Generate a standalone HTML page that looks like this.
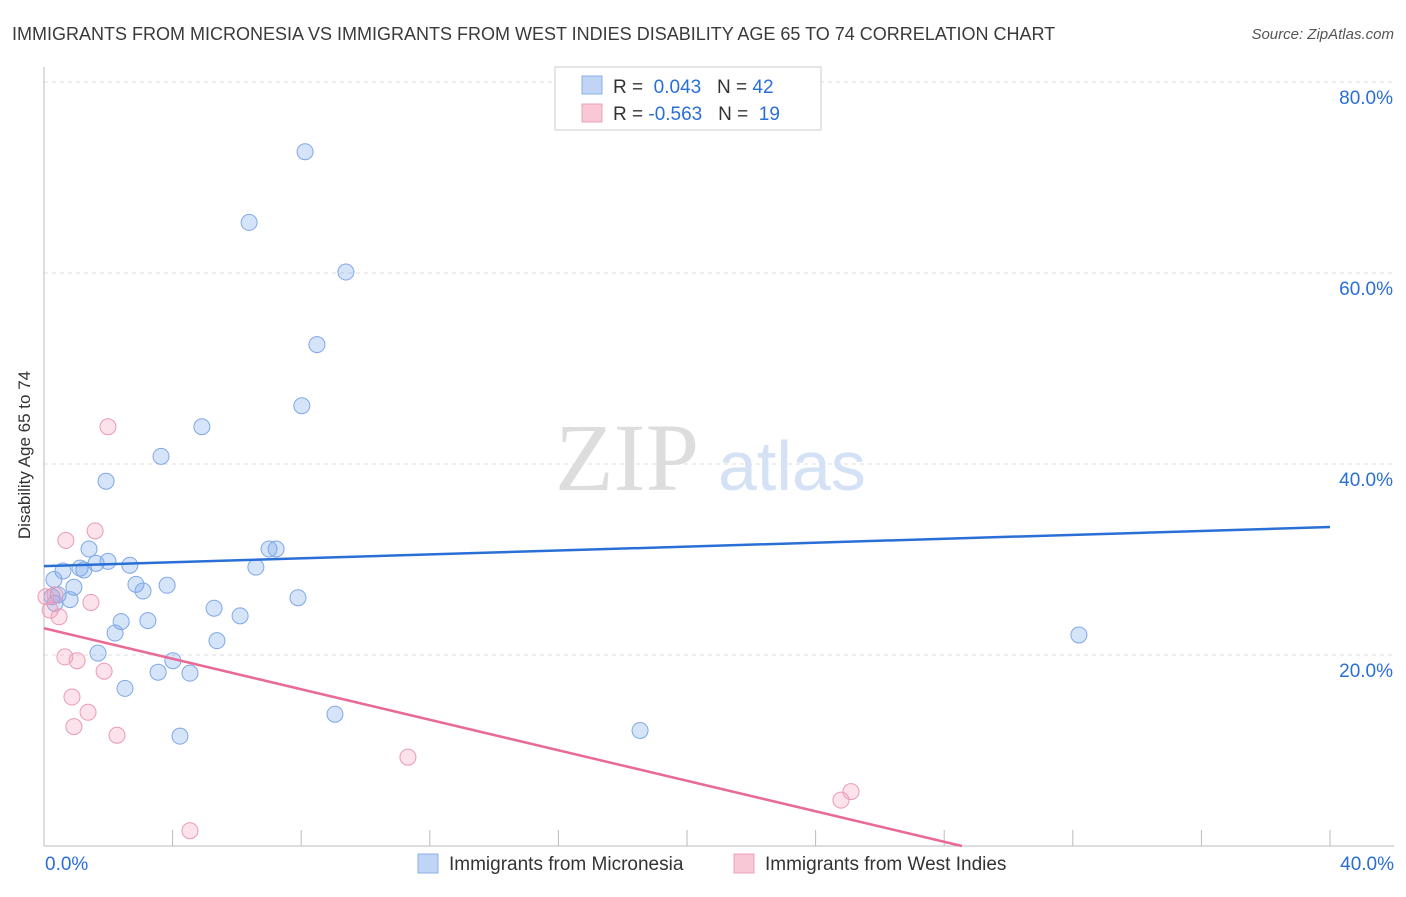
<!DOCTYPE html>
<html><head><meta charset="utf-8"><style>
body{margin:0;background:#fff;font-family:"Liberation Sans",sans-serif;}
</style></head><body>
<svg width="1406" height="892" xmlns="http://www.w3.org/2000/svg" font-family="Liberation Sans, sans-serif">
<text x="12" y="40" font-size="18" fill="#3a3a3a">IMMIGRANTS FROM MICRONESIA VS IMMIGRANTS FROM WEST INDIES DISABILITY AGE 65 TO 74 CORRELATION CHART</text>
<text x="1394" y="39" font-size="15" fill="#555" font-style="italic" text-anchor="end">Source: ZipAtlas.com</text>
<g id="grid"></g>
<text x="555" y="490" font-size="96" fill="#ddd" font-family="Liberation Serif, serif">ZIP</text>
<text x="718" y="490" font-size="70" fill="#d5e2f5">atlas</text>
<text x="30" y="455" font-size="17" fill="#333" text-anchor="middle" transform="rotate(-90 30 455)">Disability Age 65 to 74</text>
<g id="marks"></g>
<g>
<rect x="555" y="67" width="266" height="63" fill="#fff" stroke="#ccc"/>
<rect x="582" y="76" width="20" height="18" fill="#c0d5f5" stroke="#8ab0e8"/>
<rect x="582" y="104" width="20" height="18" fill="#f9c8d6" stroke="#efa0b8"/>
<text x="613" y="93" font-size="19" fill="#333">R = <tspan fill="#2a6fd6">&#160;0.043</tspan>&#160;&#160;&#160;N = <tspan fill="#2a6fd6">42</tspan></text>
<text x="613" y="120" font-size="19" fill="#333">R = <tspan fill="#2a6fd6">-0.563</tspan>&#160;&#160;&#160;N = <tspan fill="#2a6fd6">&#160;19</tspan></text>
</g>
<g>
<rect x="418" y="854" width="20" height="19" fill="#c0d5f5" stroke="#8ab0e8"/>
<text x="449" y="870" font-size="19" fill="#333">Immigrants from Micronesia</text>
<rect x="734" y="854" width="20" height="19" fill="#f9c8d6" stroke="#efa0b8"/>
<text x="765" y="870" font-size="19" fill="#333">Immigrants from West Indies</text>
</g>
</svg>
<script>
const yTicks=[20,40,60,80];
const xTickLabels=["0.0%","40.0%"];
const blueX=[8.12,6.38,9.39,8.49,8.02,4.91,3.64,1.93,1.40,7.00,7.22,1.99,1.62,1.12,1.24,0.59,2.67,6.59,0.31,0.93,2.86,3.83,3.08,0.44,0.25,0.81,0.34,7.90,5.29,6.10,3.23,2.40,2.21,5.38,32.19,1.68,4.01,3.55,4.54,2.52,9.05,4.23,18.54];
const blueY=[72.7,65.3,60.1,52.5,46.1,43.9,40.8,38.2,31.1,31.1,31.1,29.8,29.6,29.1,28.9,28.8,29.4,29.2,27.9,27.1,27.4,27.3,26.7,26.3,26.1,25.8,25.4,26.0,24.9,24.1,23.6,23.5,22.3,21.5,22.1,20.2,19.4,18.2,18.1,16.5,13.8,11.5,12.1];
const pinkX=[1.99,1.59,0.68,0.34,0.06,1.46,0.19,0.47,0.65,1.03,1.87,0.87,1.37,0.93,2.27,11.32,25.10,24.79,4.54];
const pinkY=[43.9,33.0,32.0,26.3,26.1,25.5,24.7,24.0,19.8,19.4,18.3,15.6,14.0,12.5,11.6,9.3,5.7,4.8,1.6];
const blueTrendX=[0,40];const blueTrendY=[29.3,33.4];
const pinkTrendX=[0,28.55];const pinkTrendY=[22.8,0];
const NS="http://www.w3.org/2000/svg";
const sx=v=>44+v*32.15, sy=v=>846-v*9.55;
function mk(t,a,p){const e=document.createElementNS(NS,t);for(const k in a)e.setAttribute(k,a[k]);p.appendChild(e);return e;}
const grid=document.getElementById('grid'),marks=document.getElementById('marks');
yTicks.forEach(v=>{
 const l=mk('line',{x1:44,x2:1394,y1:sy(v),y2:sy(v),stroke:'#ddd','stroke-dasharray':'4,4'},grid);
 
 
 const t=mk('text',{x:1393,y:sy(v)+22,'font-size':19,fill:'#2a6fd6','text-anchor':'end'},grid);
 t.textContent=v.toFixed(1)+'%';
 
 
});
const ax=mk('line',{x1:44,x2:1394,y1:846,y2:846,stroke:'#bbb'},grid);


const ay=mk('line',{x1:44,x2:44,y1:67,y2:846,stroke:'#bbb'},grid);


for(let v=0;v<=40;v+=4){
 const l=mk('line',{x1:sx(v),x2:sx(v),y1:830,y2:846,stroke:'#bbb'},grid);
 
 
}
[[0,'start',45],[40,'end',1394]].forEach((d,i)=>{
 const t=mk('text',{x:d[2],y:870,'font-size':19,fill:'#2a6fd6','text-anchor':d[1]},grid);
 t.textContent=xTickLabels[i];
 
 
});
blueX.forEach((x,i)=>{
 const c=mk('circle',{cx:sx(x),cy:sy(blueY[i]),r:8,fill:'rgba(120,165,235,0.3)',stroke:'#7fa8e6','stroke-width':1},marks);
 
 
});
pinkX.forEach((x,i)=>{
 const c=mk('circle',{cx:sx(x),cy:sy(pinkY[i]),r:8,fill:'rgba(245,160,190,0.3)',stroke:'#eb9ab5','stroke-width':1},marks);
 
 
});
const bl=mk('line',{x1:sx(blueTrendX[0]),y1:sy(blueTrendY[0]),x2:sx(blueTrendX[1]),y2:sy(blueTrendY[1]),stroke:'#2a6fd6','stroke-width':2.5},marks);


const pl=mk('line',{x1:sx(pinkTrendX[0]),y1:sy(pinkTrendY[0]),x2:sx(pinkTrendX[1]),y2:sy(pinkTrendY[1]),stroke:'#e86a95','stroke-width':2.5},marks);


</script>
</body></html>
